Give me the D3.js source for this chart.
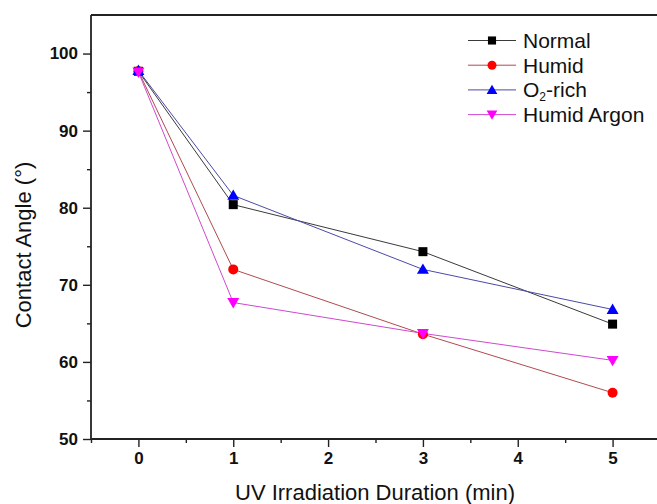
<!DOCTYPE html>
<html>
<head>
<meta charset="utf-8">
<script src="https://cdn.jsdelivr.net/npm/d3@7"></script>
<style>
  body { margin: 0; background: #fff; }
  svg text { font-family: Arial, "Liberation Sans", sans-serif; fill: #111; }
</style>
</head>
<body>
<div id="chart"></div>
<script>
// data
var durations = [0, 1, 3, 5];
var normal = [97.7, 80.4, 74.3, 64.9];
var humid = [97.7, 72.0, 63.6, 56.0];
var o2rich = [97.8, 81.6, 72.0, 66.8];
var humidArgon = [97.6, 67.7, 63.7, 60.2];
var xTicks = [0, 1, 2, 3, 4, 5];
var yTicks = [50, 60, 70, 80, 90, 100];

var series = [
  {name: "Normal", values: normal, line: "#3a3a3a", fill: "#000000", shape: "square"},
  {name: "Humid", values: humid, line: "#b04a50", fill: "#ff0000", shape: "circle"},
  {name: "O2-rich", values: o2rich, line: "#4a4aa8", fill: "#0000ff", shape: "triangle"},
  {name: "Humid Argon", values: humidArgon, line: "#d048d0", fill: "#ff00ff", shape: "down"}
];

var W = 657, H = 504;
var margin = {left: 91, top: 15, right: -3, bottom: 65};

var svg = d3.select("#chart").append("svg")
  .attr("width", W).attr("height", H);

var x = d3.scaleLinear().domain([-0.5, 5.5]).range([margin.left, W - margin.right]);
var y = d3.scaleLinear().domain([50, 105]).range([H - margin.bottom, margin.top]);

// top frame line
svg.append("line")
  .attr("x1", x(-0.5)).attr("x2", x(5.5))
  .attr("y1", y(105)).attr("y2", y(105))
  .attr("stroke", "#222").attr("stroke-width", 1.8);

// minor ticks
var xAxisMinor = d3.axisBottom(x).tickValues([-0.5, 0.5, 1.5, 2.5, 3.5, 4.5]).tickSize(4).tickFormat("");
var yAxisMinor = d3.axisLeft(y).tickValues([55, 65, 75, 85, 95]).tickSize(4).tickFormat("");
svg.append("g").attr("transform", "translate(0," + y(50) + ")").call(xAxisMinor)
  .call(g => g.select(".domain").remove())
  .selectAll("line").attr("stroke", "#222").attr("stroke-width", 1.4);
svg.append("g").attr("transform", "translate(" + x(-0.5) + ",0)").call(yAxisMinor)
  .call(g => g.select(".domain").remove())
  .selectAll("line").attr("stroke", "#222").attr("stroke-width", 1.4);

// major axes
var xAxis = d3.axisBottom(x).tickValues(xTicks).tickSize(8).tickSizeOuter(0).tickPadding(5).tickFormat(d3.format("d"));
var yAxis = d3.axisLeft(y).tickValues(yTicks).tickSize(8).tickSizeOuter(0).tickPadding(5).tickFormat(d3.format("d"));

var gx = svg.append("g").attr("transform", "translate(0," + y(50) + ")").call(xAxis);
var gy = svg.append("g").attr("transform", "translate(" + x(-0.5) + ",0)").call(yAxis);
[gx, gy].forEach(g => {
  g.select(".domain").attr("stroke", "#222").attr("stroke-width", 1.8);
  g.selectAll(".tick line").attr("stroke", "#222").attr("stroke-width", 1.4);
  g.selectAll(".tick text").attr("font-size", 17).attr("font-weight", "bold").attr("fill", "#222")
    .style("font-family", "Arial, 'Liberation Sans', sans-serif");
});
gx.select(".domain").attr("d", "M" + x(-0.5) + ",0H" + x(5.5));
gy.select(".domain").attr("d", "M0," + y(50) + "V" + y(105));

// axis titles
svg.append("text")
  .attr("x", 375).attr("y", 500)
  .attr("text-anchor", "middle").attr("font-size", 22)
  .text("UV Irradiation Duration (min)");
svg.append("text")
  .attr("transform", "translate(31,245) rotate(-90)")
  .attr("text-anchor", "middle").attr("font-size", 22)
  .text("Contact Angle (°)");

function drawMarker(g, shape, fill, cx, cy, s) {
  s = s || 1;
  if (shape === "square") {
    g.append("rect").attr("x", cx - 4.5 * s).attr("y", cy - 4.5 * s).attr("width", 9 * s).attr("height", 9 * s).attr("fill", fill);
  } else if (shape === "circle") {
    g.append("circle").attr("cx", cx).attr("cy", cy).attr("r", 5 * s).attr("fill", fill);
  } else if (shape === "triangle") {
    g.append("path").attr("d", d3.symbol().type(d3.symbolTriangle).size(62 * s * s)()).attr("transform", "translate(" + cx + "," + (cy + 1) + ")").attr("fill", fill);
  } else {
    g.append("path").attr("d", d3.symbol().type(d3.symbolTriangle).size(62 * s * s)()).attr("transform", "translate(" + cx + "," + (cy - 1) + ") rotate(180)").attr("fill", fill);
  }
}

var line = d3.line().x((d, i) => x(durations[i])).y(d => y(d));

series.forEach(s => {
  svg.append("path").datum(s.values)
    .attr("d", line).attr("fill", "none")
    .attr("stroke", s.line).attr("stroke-width", 1);
});
series.forEach(s => {
  var g = svg.append("g");
  s.values.forEach((v, i) => drawMarker(g, s.shape, s.fill, x(durations[i]), y(v)));
});

// legend
var legend = svg.append("g");
series.forEach((s, i) => {
  var ly = 40.5 + i * 24.7;
  legend.append("line").attr("x1", 468).attr("x2", 516).attr("y1", ly).attr("y2", ly)
    .attr("stroke", s.line).attr("stroke-width", 1);
  drawMarker(legend, s.shape, s.fill, 492, ly, 0.9);
  var t = legend.append("text").attr("x", 523).attr("y", ly + 7.5).attr("font-size", 21);
  if (s.name === "O2-rich") {
    t.append("tspan").text("O");
    t.append("tspan").attr("font-size", 12).attr("dy", 4).text("2");
    t.append("tspan").attr("dy", -4).text("-rich");
  } else {
    t.text(s.name);
  }
});
</script>
</body>
</html>
